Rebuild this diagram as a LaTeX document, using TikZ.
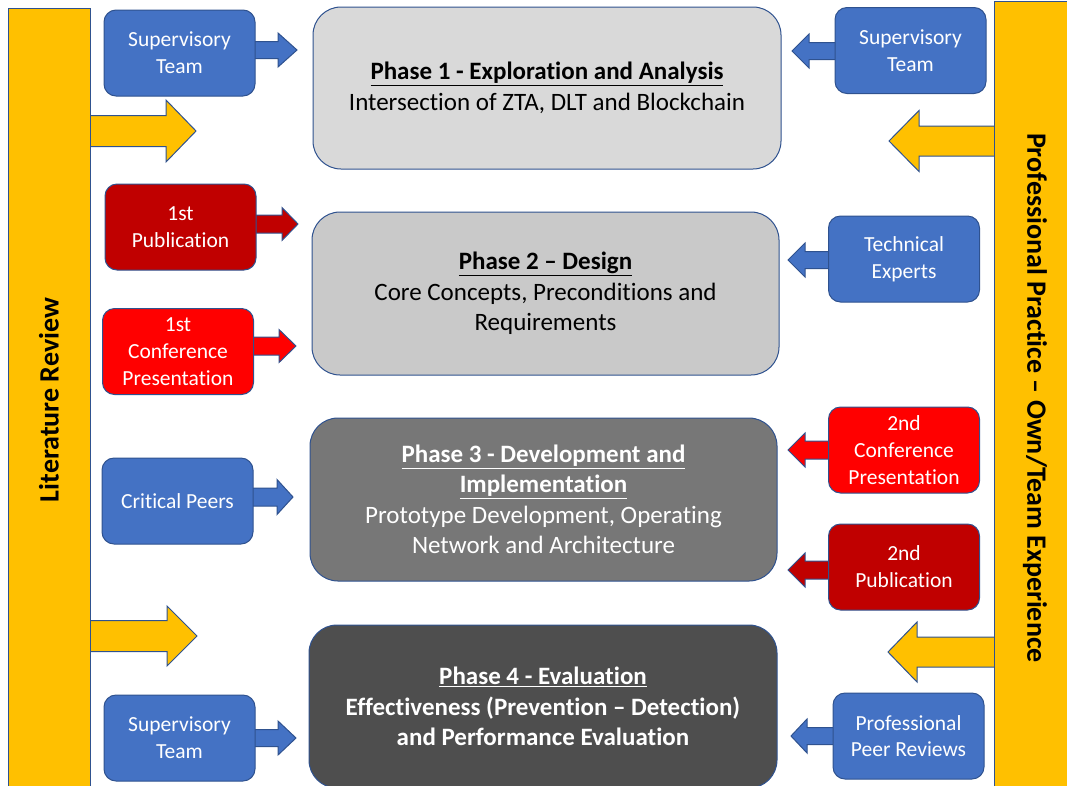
\documentclass[tikz,border=0pt]{standalone}
\usepackage{fontspec}
\setmainfont{Carlito}[Ligatures=NoCommon]
\usetikzlibrary{calc}

\definecolor{boxblue}{HTML}{4472C4}
\definecolor{edgeblue}{HTML}{2F528F}
\definecolor{baryellow}{HTML}{FFC000}
\definecolor{darkred}{HTML}{C00000}
\definecolor{brightred}{HTML}{FF0000}
\definecolor{phaseA}{HTML}{D9D9D9}
\definecolor{phaseB}{HTML}{C9C9C9}
\definecolor{phaseC}{HTML}{777777}
\definecolor{phaseD}{HTML}{4E4E4E}

% horizontal block arrow: style, from, to (tip), half shaft, half head, head length
\newcommand\blockarrow[6]{%
  \draw[#1] let \p1=(#2), \p2=(#3),
      \n1={\x2-ifthenelse(\x2>\x1,1,-1)*#6} in
    (\x1,\y2+#4pt) -- (\n1,\y2+#4pt) -- (\n1,\y2+#5pt) -- (\x2,\y2)
    -- (\n1,\y2-#5pt) -- (\n1,\y2-#4pt) -- (\x1,\y2-#4pt) -- cycle;}

% underlined title line
\newcommand\ttl[1]{\textbf{\underline{#1}}}

\tikzset{
  edge/.style={draw=edgeblue, line width=1pt},
  smallbox/.style={edge, rounded corners=12pt, minimum width=151pt,
    minimum height=86pt, inner sep=0pt, text=white, align=center,
    font=\fontsize{21.5}{26.8}\selectfont},
  bluebox/.style={smallbox, fill=boxblue},
  pubbox/.style={smallbox, fill=darkred},
  confbox/.style={smallbox, fill=brightred},
  phasebox/.style={edge, rounded corners=28pt, minimum width=467pt,
    minimum height=163pt, inner sep=0pt, align=center,
    font=\fontsize{25}{30.5}\selectfont},
  sidebar/.style={edge, fill=baryellow, minimum height=82pt, inner sep=0pt,
    font=\fontsize{28}{32}\selectfont\bfseries},
  bluearrow/.style={edge, fill=boxblue, line join=miter},
  pubarrow/.style={edge, fill=darkred, line join=miter},
  confarrow/.style={edge, fill=brightred, line join=miter},
  yellowarrow/.style={edge, fill=baryellow, line join=miter},
}

\begin{document}
\begin{tikzpicture}[x=1pt, y=-1pt]
\useasboundingbox (0,0) rectangle (1067,785);
\clip (0,0) rectangle (1067,785);

% arrow tips
\coordinate (tStL) at (297,50);
\coordinate (tPubA) at (298,224);
\coordinate (tConfA) at (296,346);
\coordinate (tCrit) at (293,497);
\coordinate (tStLb) at (296,738);
\coordinate (tStR) at (792,51);
\coordinate (tTech) at (788,260);
\coordinate (tConfB) at (788,450);
\coordinate (tPubB) at (788,570);
\coordinate (tPeer) at (791,736);
\coordinate (tLitA) at (196,131);
\coordinate (tLitB) at (197,636);
\coordinate (tProA) at (889,141);
\coordinate (tProB) at (888,652);

% side bar centres
\path (49,400) coordinate (litc);
\path (1035,398) coordinate (proc);

% connectors first, so the boxes sit over their tails
\blockarrow{yellowarrow}{litc}{tLitA}{15.5}{31}{30}
\blockarrow{yellowarrow}{litc}{tLitB}{15.5}{30}{30}
\blockarrow{yellowarrow}{proc}{tProA}{15}{30.5}{30}
\blockarrow{yellowarrow}{proc}{tProB}{15}{30}{29}

\blockarrow{bluearrow}{179.5,53}{tStL}{8.5}{17}{19}
\blockarrow{pubarrow}{180.5,227}{tPubA}{9}{16.5}{16}
\blockarrow{confarrow}{178,351.5}{tConfA}{9}{16.5}{17}
\blockarrow{bluearrow}{177.5,501}{tCrit}{9}{17.5}{16}
\blockarrow{bluearrow}{179.5,738}{tStLb}{8.5}{17}{18}
\blockarrow{bluearrow}{910.5,50.5}{tStR}{8.5}{17}{17}
\blockarrow{bluearrow}{904,259}{tTech}{8.5}{17}{17}
\blockarrow{confarrow}{904,450}{tConfB}{9}{17}{17}
\blockarrow{pubarrow}{904,567}{tPubB}{9}{17}{17}
\blockarrow{bluearrow}{908.5,736}{tPeer}{8.5}{17}{16}

% side bars
\node[sidebar, rotate=90, minimum width=784pt] (lit) at (litc)
  {Literature Review};
\node[sidebar, rotate=-90, minimum width=794pt, minimum height=82pt] (pro) at (proc)
  {Professional Practice – Own/Team Experience};

% contribution boxes
\node[bluebox] (stL) at (179.5,53) {Supervisory\\Team};
\node[pubbox] (pubA) at (180.5,227) {1st\\Publication};
\node[confbox] (confA) at (178,351.5) {1st\\Conference\\Presentation};
\node[bluebox] (crit) at (177.5,501) {Critical Peers};
\node[bluebox] (stLb) at (179.5,738) {Supervisory\\Team};
\node[bluebox] (stR) at (910.5,50.5) {Supervisory\\Team};
\node[bluebox] (tech) at (904,259) {Technical\\Experts};
\node[confbox] (confB) at (904,450) {2nd\\Conference\\Presentation};
\node[pubbox] (pubB) at (904,567) {2nd\\Publication};
\node[bluebox] (peer) at (908.5,736) {Professional\\Peer Reviews};

% phases
\node[phasebox, fill=phaseA, minimum width=468pt, minimum height=162pt] (p1) at (547,88)
  {\ttl{Phase 1 - Exploration and Analysis}\\
   Intersection of ZTA, DLT and Blockchain};
\node[phasebox, fill=phaseB] (p2) at (545.5,293.5)
  {\ttl{Phase 2 – Design}\\
   Core Concepts, Preconditions and\\Requirements};
\node[phasebox, fill=phaseC, text=white] (p3) at (543.5,499.5)
  {\ttl{Phase 3 - Development and}\\
   \ttl{Implementation}\\
   Prototype Development, Operating\\Network and Architecture};
\node[phasebox, fill=phaseD, text=white, minimum width=468pt] (p4) at (543,706.5)
  {\ttl{Phase 4 - Evaluation}\\
   \textbf{Effectiveness (Prevention – Detection)}\\
   \textbf{and Performance Evaluation}};
\end{tikzpicture}
\end{document}
